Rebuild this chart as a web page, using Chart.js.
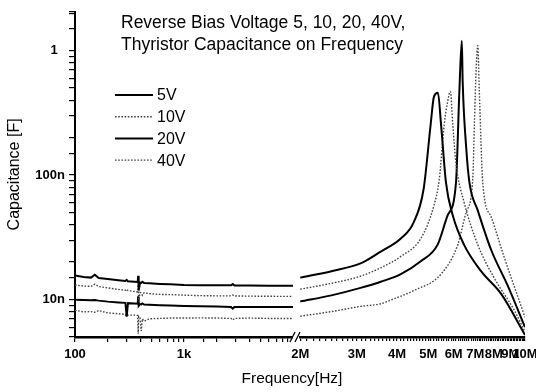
<!DOCTYPE html>
<html>
<head>
<meta charset="utf-8">
<script src="https://cdn.jsdelivr.net/npm/chart.js@4.4.1/dist/chart.umd.min.js"></script>
<style>
  html, body { margin: 0; padding: 0; background: #fff; }
  #wrap { position: relative; width: 536px; height: 392px; }
</style>
</head>
<body>
<div id="wrap"><canvas id="capChart" width="536" height="392"></canvas></div>
<script>
// series names
const seriesLabels = ['5V', '10V', '20V', '40V'];

// low frequency part (Hz), capacitance in nF
const lowFreq = [100, 120, 140, 152, 165, 200, 250, 290, 298, 306, 350, 376, 380, 384, 395, 405, 415, 430, 480, 600, 750, 1000, 1400, 2000, 2700, 2800, 2900, 4000, 6000, 8000, 10000];
const low5V  = [15.6, 15.2, 15.0, 15.8, 14.9, 14.6, 14.3, 14.1, 14.4, 14.0, 13.9, 13.85, 15.5, 11.8, 13.7, 13.6, 13.9, 13.6, 13.5, 13.35, 13.25, 13.1, 13.05, 13.0, 13.0, 13.3, 12.95, 12.95, 12.9, 12.9, 12.9];
const low10V = [13.05, 12.85, 12.75, 13.3, 12.7, 12.4, 12.05, 11.85, 12.1, 11.8, 11.6, 11.5, 13.2, 9.6, 11.4, 11.3, 10.8, 11.35, 11.15, 11.0, 10.95, 10.85, 10.75, 10.7, 10.7, 10.85, 10.68, 10.65, 10.62, 10.6, 10.6];
const low20V = [9.95, 9.9, 9.85, 9.9, 9.8, 9.62, 9.48, 9.4, 7.3, 9.35, 9.3, 9.25, 10.6, 8.9, 9.2, 9.15, 9.3, 9.1, 9.08, 9.0, 8.95, 8.88, 8.82, 8.78, 8.72, 8.45, 8.72, 8.72, 8.7, 8.7, 8.7];
const low40V = [8.2, 7.95, 8.0, 7.9, 8.15, 7.8, 7.7, 7.6, 7.35, 7.5, 7.5, 7.45, 5.3, 7.3, 7.1, 5.6, 7.0, 6.7, 7.0, 7.05, 7.1, 7.1, 7.12, 7.1, 7.05, 6.85, 7.05, 7.1, 7.05, 7.05, 7.05];

// high frequency part (MHz), capacitance in nF
const hiFreq5V  = [2.0, 2.5, 3.08, 3.56, 4.11, 4.51, 4.84, 5.09, 5.21, 5.36, 5.48, 5.68, 5.96, 6.46, 7.3, 8.43, 10.0];
const hiCap5V   = [15.0, 16.9, 19.5, 24.3, 30.9, 41.9, 77.6, 257, 427, 459, 257, 86.5, 47.6, 27.6, 16.9, 11.1, 5.2];
const hiFreq10V = [2.0, 2.5, 3.08, 3.56, 4.11, 4.74, 5.21, 5.41, 5.61, 5.75, 5.86, 5.96, 6.10, 6.47, 7.13, 8.02, 9.26, 10.0];
const hiCap10V  = [12.1, 13.5, 15.4, 18.0, 22.2, 30.9, 57.0, 92, 257, 392, 470, 257, 124, 60, 27.6, 14.9, 8.2, 5.5];
const hiFreq20V = [2.0, 2.5, 3.08, 3.56, 4.11, 4.74, 5.35, 5.75, 6.10, 6.25, 6.36, 6.40, 6.56, 6.72, 7.13, 7.85, 8.85, 10.0];
const hiCap20V  = [9.64, 10.8, 12.4, 13.9, 16.0, 20.3, 27.6, 47.6, 86.5, 470, 1199, 562, 169, 86.5, 52, 25, 12.8, 6.0];
const hiFreq40V = [2.0, 2.5, 3.08, 3.56, 3.90, 4.51, 5.48, 6.18, 6.56, 6.88, 6.96, 7.05, 7.13, 7.21, 7.39, 7.85, 8.61, 10.0];
const hiCap40V  = [7.35, 8.0, 8.81, 9.25, 10.1, 11.8, 16.0, 27.6, 50.2, 93, 257, 721, 1095, 470, 86.5, 46, 22, 7.2];

// tick labels
const yTickLabels = { 10: '10n', 100: '100n', 1000: '1  ' };
const lowTickLabels = { 100: '100', 1000: '1k' };
const hiTickLabels = ['2M', '3M', '4M', '5M', '6M', '7M', '8M', '9M', '10M'];

const titleLines = ['Reverse Bias Voltage 5, 10, 20, 40V,', 'Thyristor Capacitance on Frequency'];
const xTitle = 'Frequency[Hz]';
const yTitle = 'Capacitance [F]';

const FONT = "'Liberation Sans', Arial, sans-serif";
Chart.defaults.font.family = FONT;
Chart.defaults.color = '#000';

const lineStyles = [
    { color: '#000', width: 2, dash: [] },
    { color: '#444', width: 1.4, dash: [1.6, 1.6] },
    { color: '#000', width: 2, dash: [] },
    { color: '#444', width: 1.4, dash: [1.6, 1.6] }
];

const lowData = [low5V, low10V, low20V, low40V];
const hiFreqs = [hiFreq5V, hiFreq10V, hiFreq20V, hiFreq40V];
const hiCaps = [hiCap5V, hiCap10V, hiCap20V, hiCap40V];

const datasets = [];
seriesLabels.forEach((name, i) => {
    const st = lineStyles[i];
    datasets.push({
        label: name,
        data: lowFreq.map((f, j) => ({ x: f, y: lowData[i][j] })),
        xAxisID: 'xLow',
        yAxisID: 'y',
        borderColor: st.color,
        borderWidth: st.width,
        borderDash: st.dash,
        pointRadius: 0,
        tension: 0
    });
});
seriesLabels.forEach((name, i) => {
    const st = lineStyles[i];
    datasets.push({
        label: name + ' hi',
        data: hiFreqs[i].map((f, j) => ({ x: f, y: hiCaps[i][j] })),
        xAxisID: 'xHigh',
        yAxisID: 'y',
        borderColor: st.color,
        borderWidth: st.width,
        borderDash: st.dash,
        pointRadius: 0,
        cubicInterpolationMode: 'monotone'
    });
});

// title, legend, axis break and x title
const decorations = {
    id: 'decorations',
    afterDraw(chart) {
        const ctx = chart.ctx;
        const xl = chart.scales.xLow;
        ctx.save();
        ctx.fillStyle = '#000';
        ctx.textBaseline = 'middle';
        ctx.textAlign = 'left';
        ctx.font = '17.5px ' + FONT;
        titleLines.forEach((t, i) => ctx.fillText(t, 121, 23 + i * 22));

        // legend
        ctx.font = '16px ' + FONT;
        seriesLabels.forEach((name, i) => {
            const ds = chart.data.datasets[i];
            const y = 95 + i * 21.7;
            ctx.beginPath();
            ctx.strokeStyle = ds.borderColor;
            ctx.lineWidth = ds.borderWidth;
            ctx.setLineDash(ds.borderDash);
            ctx.moveTo(115, y);
            ctx.lineTo(153, y);
            ctx.stroke();
            ctx.setLineDash([]);
            ctx.fillText(name, 157, y + 1);
        });

        // x title
        ctx.textAlign = 'center';
        ctx.font = '15.5px ' + FONT;
        ctx.fillText(xTitle, 292, 379);

        // axis break
        const bx = xl.right, by = xl.top;
        ctx.fillStyle = '#fff';
        ctx.fillRect(bx - 3, by - 3, 6, 6);
        ctx.strokeStyle = '#000';
        ctx.lineWidth = 1.3;
        ctx.beginPath();
        ctx.moveTo(bx - 6, by + 5); ctx.lineTo(bx - 1, by - 5);
        ctx.moveTo(bx - 1, by + 5); ctx.lineTo(bx + 4, by - 5);
        ctx.stroke();
        ctx.restore();
    }
};

const tickGrid = (len) => ({
    drawOnChartArea: false,
    drawTicks: true,
    tickLength: len,
    color: '#000',
    lineWidth: 1.2
});

new Chart(document.getElementById('capChart'), {
    type: 'line',
    data: { datasets },
    options: {
        responsive: false,
        animation: false,
        devicePixelRatio: 1,
        layout: { padding: { top: 5, right: 0, bottom: 0, left: 0 } },
        plugins: {
            legend: { display: false },
            tooltip: { enabled: false }
        },
        scales: {
            y: {
                type: 'logarithmic',
                position: 'left',
                min: 5,
                max: 2050,
                afterFit: (s) => { s.width = 75; },
                grid: tickGrid(6),
                border: { display: true, color: '#000', width: 2 },
                ticks: {
                    autoSkip: false,
                    padding: 4,
                    font: { size: 13, weight: 'bold' },
                    callback: (v) => yTickLabels[Math.round(v)] || ''
                },
                title: {
                    display: true,
                    text: yTitle,
                    font: { size: 16 },
                    padding: { top: 5, bottom: 0 }
                }
            },
            xLow: {
                type: 'logarithmic',
                position: 'bottom',
                stack: 'freq',
                stackWeight: 221,
                min: 100,
                max: 10650,
                afterFit: (s) => { s.height = 55; },
                afterBuildTicks: (s) => { s.ticks = s.ticks.filter(t => t.value < 9999); },
                grid: tickGrid(5),
                border: { display: true, color: '#000', width: 2.5 },
                ticks: {
                    autoSkip: false,
                    maxRotation: 0,
                    minRotation: 0,
                    padding: 5,
                    font: { size: 13, weight: 'bold' },
                    callback: (v) => lowTickLabels[Math.round(v)] || ''
                }
            },
            xHigh: {
                type: 'logarithmic',
                position: 'bottom',
                stack: 'freq',
                stackWeight: 229,
                min: 1.94,
                max: 10,
                afterFit: (s) => { s.height = 55; s.paddingRight = 11; },
                afterBuildTicks: (s) => {
                    const t = [];
                    for (let k = 20; k <= 100; k++) t.push({ value: k / 10 });
                    s.ticks = t;
                },
                grid: tickGrid(4),
                border: { display: true, color: '#000', width: 2.5 },
                ticks: {
                    autoSkip: false,
                    maxRotation: 0,
                    minRotation: 0,
                    padding: 6,
                    font: { size: 13, weight: 'bold' },
                    callback: (v) => {
                        const k = Math.round(v * 10);
                        return k % 10 === 0 ? hiTickLabels[k / 10 - 2] : '';
                    }
                }
            }
        }
    },
    plugins: [decorations]
});
</script>
</body>
</html>
